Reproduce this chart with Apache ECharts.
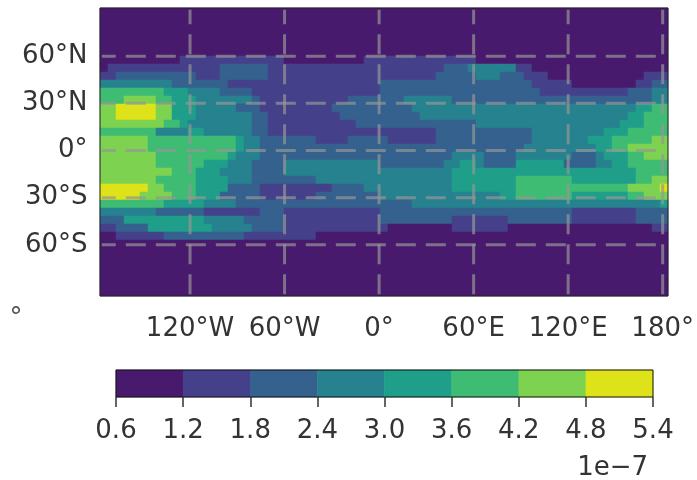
<!DOCTYPE html>
<html><head><meta charset="utf-8">
<style>html,body{margin:0;padding:0;background:#fff}#c{width:697px;height:480px;filter:blur(0.7px)}</style>
<script src="https://cdn.jsdelivr.net/npm/echarts@6/dist/echarts.min.js"></script>
</head><body><div id="c"></div>
<script>
// Contour bands, in units of 1e-7
const bandEdges = [0.6,1.2,1.8,2.4,3.0,3.6,4.2,4.8,5.4];
const bandValues = [0.9,1.5,2.1,2.7,3.3,3.9,4.5,5.1];
const bandColors = ['#481a6e','#44408a','#34618d','#26828e','#1f9e89','#3fbc73','#7dd250','#dde318'];
const lonLines = [-120,-60,0,60,120,180];
const latLines = [60,30,0,-30,-60];
const lonTicks = {'-120':'120°W','-60':'60°W','0':'0°','60':'60°E','120':'120°E','180':'180°'};
const latTicks = {'60':'60°N','30':'30°N','0':'0°','-30':'30°S','-60':'60°S'};
const lonEnds = [-176, 180];
const latEnds = [-91.5, 89.5];
const NCOLS = 71, NROWS = 36;
// Each row, north to south: band index, then the column where that band ends
const rowRuns = {
  6:[0,10,1,23,0,33,1,47,0,71],
  7:[0,1,1,15,2,21,1,43,2,46,3,52,1,54,0,71],
  8:[1,2,2,12,1,15,2,21,1,42,2,47,3,50,2,53,1,56,0,68,1,71],
  9:[3,9,2,16,1,35,2,54,1,59,0,67,1,69,2,71],
  10:[5,8,4,11,3,15,2,19,1,35,2,55,1,66,2,69,3,71],
  11:[5,3,6,7,5,9,4,12,3,19,2,20,1,31,2,38,3,44,2,69,3,71],
  12:[6,2,7,7,6,9,4,12,3,17,2,20,1,29,2,39,3,67,4,69,5,71],
  13:[6,2,7,7,6,9,4,12,3,19,2,21,1,30,2,40,3,66,4,68,5,71],
  14:[6,8,5,10,4,11,3,19,2,21,1,32,2,47,3,65,4,68,5,71],
  15:[5,7,3,11,4,13,3,19,2,21,1,42,2,54,3,63,4,66,5,71],
  16:[6,6,5,17,4,18,3,20,2,27,1,31,2,36,1,42,2,54,3,61,4,64,5,69,6,71],
  17:[6,6,5,17,4,18,3,20,2,53,3,62,4,64,5,66,6,71],
  18:[6,7,5,16,4,17,3,20,2,44,3,48,2,52,3,59,2,62,3,63,4,66,5,68,6,71],
  19:[6,7,5,13,4,16,3,19,2,23,3,35,2,43,3,45,4,47,3,48,2,52,4,58,2,62,3,64,4,66,5,71],
  20:[6,9,5,12,4,15,3,19,2,23,3,44,4,67,5,71],
  21:[6,7,5,12,4,16,3,19,2,27,3,44,4,52,5,59,4,67,5,69,6,71],
  22:[7,6,6,8,5,12,4,16,2,20,1,29,2,33,3,44,4,52,5,66,6,70,7,71],
  23:[7,5,6,9,5,12,4,15,2,20,1,27,2,35,3,50,4,52,5,59,4,66,5,68,6,71],
  24:[5,8,4,13,3,17,2,39,3,70,4,71],
  25:[3,7,2,13,1,20,2,23,1,35,2,59,1,67,2,71],
  26:[2,3,4,13,3,18,2,23,1,35,2,44,1,51,2,59,1,67,2,71],
  27:[1,2,2,6,4,14,3,19,2,23,1,36,0,44,1,51,0,69,1,71],
  28:[0,2,1,8,2,18,1,27,0,71]
};

const cells = [];
for (let r = 0; r < NROWS; r++) {
  const runs = rowRuns[r] || [0, NCOLS];
  let c = 0;
  for (let k = 0; k < runs.length; k += 2) {
    for (; c < runs[k + 1]; c++) cells.push([c, r, bandValues[runs[k]]]);
  }
}
const textColor = '#333';
const font = {fontFamily:'DejaVu Sans', fontSize:26, color:textColor};
const seq = n => Array.from({length:n},(_,i)=>i);
const gridLine = (data, offset) => ({type:'line', xAxisIndex:1, yAxisIndex:1, data, symbol:'none', clip:false, silent:true, z:6,
  lineStyle:{color:'rgba(150,150,150,0.7)', width:3, type:[20,10], dashOffset:offset}});
const chart = echarts.init(document.getElementById('c'), null, {renderer:'canvas'});
chart.setOption({
  animation:false,
  backgroundColor:'#fff',
  grid:[
    {left:100, width:568, top:8, height:288, show:true, borderColor:'#222', borderWidth:1, backgroundColor:'transparent', z:5},
    {left:95.5, width:571.5, top:9, height:283},
    {left:116, width:537, top:370, height:27, show:true, borderColor:'#111', borderWidth:1, backgroundColor:'transparent', z:5},
    {left:116, width:537, top:370, height:27}
  ],
  xAxis:[
    {gridIndex:0, type:'category', data:seq(NCOLS), show:false},
    {gridIndex:1, type:'value', min:-180, max:180, interval:60, z:10,
     axisLine:{show:false}, axisTick:{show:false}, splitLine:{show:false},
     axisLabel:Object.assign({margin:24, hideOverlap:false, showMinLabel:false, formatter:v=>lonTicks[v]||''}, font)},
    {gridIndex:2, type:'category', data:bandValues, show:false},
    {gridIndex:3, type:'value', min:0.6, max:5.4, interval:0.6, splitLine:{show:false}, z:10,
     axisLine:{show:false}, axisTick:{show:true, length:10, lineStyle:{color:'#333', width:1.5}},
     axisLabel:Object.assign({margin:21, hideOverlap:false, formatter:v=>v.toFixed(1)}, font)}
  ],
  yAxis:[
    {gridIndex:0, type:'category', data:seq(NROWS), inverse:true, show:false},
    {gridIndex:1, type:'value', min:-90, max:90, interval:30, z:10,
     axisLine:{show:false}, axisTick:{show:false}, splitLine:{show:false},
     axisLabel:Object.assign({margin:8, padding:[3,0,0,0], hideOverlap:false, formatter:v=>latTicks[v]||''}, font)},
    {gridIndex:2, type:'category', data:['bar'], show:false},
    {gridIndex:3, type:'value', min:0, max:1, show:false}
  ],
  visualMap:{show:false, type:'piecewise', seriesIndex:[0,1], dimension:2,
    pieces:bandColors.map((color,i)=>({min:bandEdges[i], max:bandEdges[i+1], color}))},
  series:[
    {type:'heatmap', xAxisIndex:0, yAxisIndex:0, data:cells, progressive:0, silent:true, emphasis:{disabled:true}},
    {type:'heatmap', xAxisIndex:2, yAxisIndex:2, data:bandValues.map((v,i)=>[i,0,v]), silent:true, emphasis:{disabled:true}},
    ...latLines.map(lat=>gridLine(lonEnds.map(lon=>[lon,lat]), 6)),
    ...lonLines.map(lon=>gridLine(latEnds.map(lat=>[lon,lat]), 0))
  ],
  graphic:[
    {type:'text', right:49, top:455, style:{text:'1e−7', font:'26px "DejaVu Sans"', fill:textColor}},
    {type:'text', left:9.5, top:306, style:{text:'°', font:'26px "DejaVu Sans"', fill:'#555'}}
  ]
});
</script></body></html>
